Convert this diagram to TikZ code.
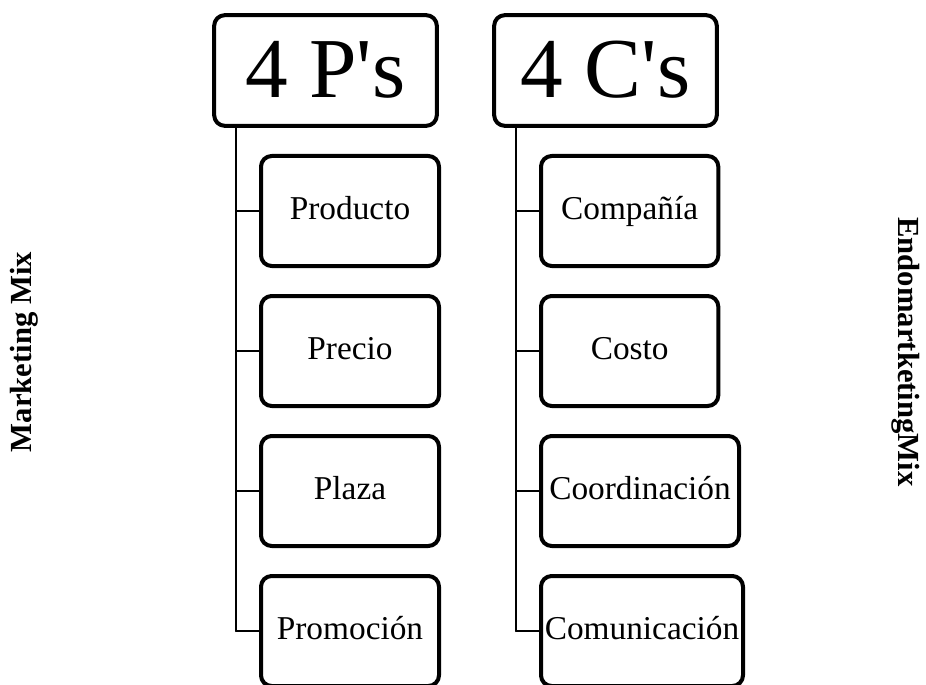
\documentclass[tikz,border=0pt]{standalone}
\usepackage{fontspec}
\setmainfont{Liberation Serif}
\usetikzlibrary{positioning}

\begin{document}
\begin{tikzpicture}[line cap=round,line join=round,x=0.75pt,y=-0.75pt,
  head/.style={draw,line width=3pt,rounded corners=8pt,minimum width=167pt,minimum height=83pt,text height=40pt,text depth=0pt,font=\fontsize{64}{70}\selectfont},
  item/.style={draw,line width=3pt,rounded corners=8pt,minimum height=82.5pt,inner xsep=2pt,anchor=west,text height=17.5pt,text depth=5pt,font=\fontsize{25}{30}\selectfont},
  side/.style={font=\bfseries\fontsize{23}{28}\selectfont},
  link/.style={line width=1.5pt}]
\useasboundingbox (0,0) rectangle (926,685);
% titles on both sides
\node[side,rotate=90] (mix) at (24,352) {Marketing Mix};
\node[side,rotate=-90] (endo) at (906,352) {EndomartketingMix};
% the 4 P's
\node[head] (ps) at (325.5,70.5) {4 P\textquotesingle s};
\coordinate (ptrunk) at (236,126);
\foreach \t [count=\i] in {Producto,Precio,Plaza,Promoción}
{
\node[item,minimum width=133.5pt] (p\i) at (259,71+140*\i) {\t};
\draw[link] (ptrunk |- p\i.west) -- (p\i.west);
}
\draw[link] (ptrunk) -- (ptrunk |- p4.west);
% the 4 C's
\node[head] (cs) at (605.5,70.5) {4 C\textquotesingle s};
\coordinate (ctrunk) at (516,126);
\foreach \t/\w [count=\i] in {Compañía/133,Costo/133,Coordinación/148.5,Comunicación/151.5}
{
\node[item,minimum width=\w pt] (c\i) at (539,71+140*\i) {\t};
\draw[link] (ctrunk |- c\i.west) -- (c\i.west);
}
\draw[link] (ctrunk) -- (ctrunk |- c4.west);
\end{tikzpicture}
\end{document}
